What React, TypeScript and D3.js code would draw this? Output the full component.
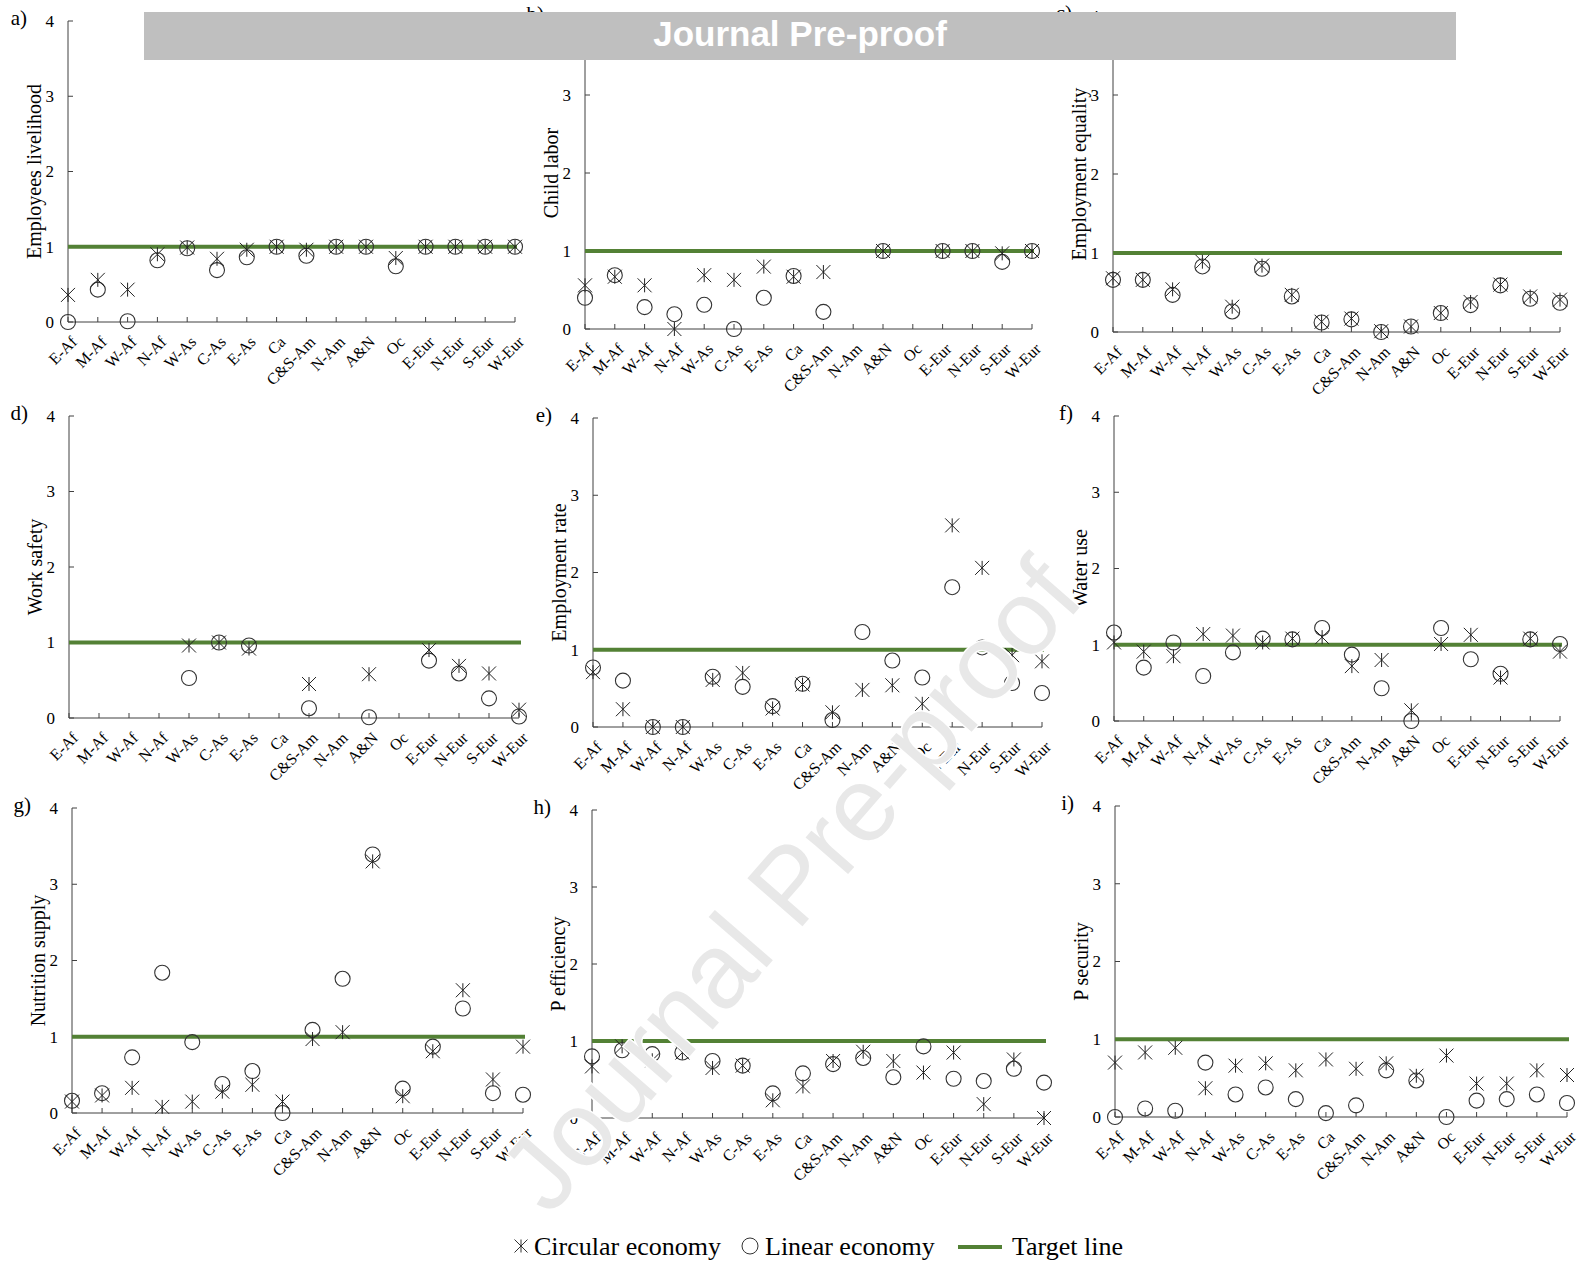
import React from "react";
import * as d3 from "d3";

const regions = ["E-Af", "M-Af", "W-Af", "N-Af", "W-As", "C-As", "E-As", "Ca", "C&S-Am", "N-Am", "A&N", "Oc", "E-Eur", "N-Eur", "S-Eur", "W-Eur"];
const panelLetters = ["a)", "b)", "c)", "d)", "e)", "f)", "g)", "h)", "i)"];
const indicators = ["Employees livelihood", "Child labor", "Employment equality", "Work safety", "Employment rate", "Water use", "Nutrition supply", "P efficiency", "P security"];
const yTicks = [0, 1, 2, 3, 4];
const target = 1;

// circular economy (asterisk) and linear economy (circle), null = no value
const circEmployees = [0.36, 0.56, 0.43, 0.9, 0.99, 0.84, 0.96, 1, 0.96, 1, 1, 0.85, 1, 1, 1, 1];
const linEmployees = [0, 0.43, 0.01, 0.82, 0.98, 0.69, 0.86, 1, 0.88, 1, 1, 0.74, 1, 1, 1, 1];
const circChild = [0.56, 0.67, 0.56, 0, 0.69, 0.63, 0.8, 0.67, 0.73, null, 1, null, 1, 1, 0.97, 1];
const linChild = [0.4, 0.69, 0.28, 0.19, 0.31, 0, 0.4, 0.68, 0.22, null, 1, null, 1, 1, 0.86, 1];
const circEquality = [0.68, 0.66, 0.54, 0.89, 0.32, 0.84, 0.47, 0.13, 0.17, 0.01, 0.07, 0.24, 0.38, 0.6, 0.45, 0.41];
const linEquality = [0.66, 0.66, 0.47, 0.83, 0.26, 0.8, 0.45, 0.12, 0.16, 0, 0.07, 0.24, 0.34, 0.59, 0.42, 0.37];
const circSafety = [null, null, null, null, 0.96, 1, 0.92, null, 0.45, null, 0.58, null, 0.9, 0.69, 0.59, 0.11];
const linSafety = [null, null, null, null, 0.53, 1, 0.96, null, 0.13, null, 0.01, null, 0.76, 0.59, 0.26, 0.02];
const circRate = [0.71, 0.23, 0, 0, 0.61, 0.7, 0.24, 0.55, 0.19, 0.48, 0.54, 0.3, 2.61, 2.06, 0.93, 0.85];
const linRate = [0.77, 0.6, 0, 0, 0.65, 0.52, 0.27, 0.56, 0.09, 1.23, 0.86, 0.64, 1.81, 1.03, 0.57, 0.44];
const circWater = [1.03, 0.91, 0.85, 1.14, 1.12, 1.03, 1.08, 1.1, 0.72, 0.8, 0.14, 1.01, 1.13, 0.57, 1.08, 0.91];
const linWater = [1.16, 0.7, 1.03, 0.59, 0.9, 1.08, 1.07, 1.22, 0.87, 0.43, 0, 1.22, 0.81, 0.62, 1.07, 1.01];
const circNutrition = [0.15, 0.23, 0.33, 0.08, 0.15, 0.28, 0.37, 0.15, 0.97, 1.06, 3.3, 0.22, 0.81, 1.61, 0.44, 0.87];
const linNutrition = [0.16, 0.26, 0.73, 1.84, 0.93, 0.38, 0.55, 0, 1.09, 1.76, 3.39, 0.32, 0.87, 1.37, 0.26, 0.24];
const circPEff = [0.67, 0.93, 0.75, 0.85, 0.65, 0.68, 0.23, 0.41, 0.74, 0.86, 0.74, 0.59, 0.85, 0.18, 0.76, 0];
const linPEff = [0.8, 0.88, 0.83, 0.85, 0.74, 0.68, 0.32, 0.58, 0.7, 0.78, 0.53, 0.93, 0.51, 0.48, 0.64, 0.46];
const circPSec = [0.7, 0.83, 0.89, 0.37, 0.66, 0.69, 0.6, 0.74, 0.62, 0.69, 0.53, 0.79, 0.43, 0.43, 0.6, 0.54];
const linPSec = [0, 0.11, 0.08, 0.7, 0.29, 0.38, 0.23, 0.05, 0.15, 0.6, 0.47, 0, 0.21, 0.23, 0.29, 0.18];

const circular = [circEmployees, circChild, circEquality, circSafety, circRate, circWater, circNutrition, circPEff, circPSec];
const linear = [linEmployees, linChild, linEquality, linSafety, linRate, linWater, linNutrition, linPEff, linPSec];

// pixel frame of each panel: first/last category x, y of 0 and of 4
const frames = [
  { x0: 68, x1: 515, y0: 322, y4: 21 },
  { x0: 585, x1: 1032, y0: 329, y4: 17 },
  { x0: 1113, x1: 1560, y0: 332, y4: 16 },
  { x0: 69, x1: 519, y0: 718, y4: 416 },
  { x0: 593, x1: 1042, y0: 727, y4: 418 },
  { x0: 1114, x1: 1560, y0: 721, y4: 416 },
  { x0: 72, x1: 523, y0: 1113, y4: 808 },
  { x0: 592, x1: 1044, y0: 1118, y4: 810 },
  { x0: 1115, x1: 1567, y0: 1117, y4: 806 },
];

const serif = "'Liberation Serif', 'Times New Roman', serif";
const sans = "'Liberation Sans', Arial, sans-serif";
const green = "#538135";
const axisColor = "#404040";

const starType = {
  draw(ctx: any, size: number) {
    const r = Math.sqrt(size) / 2;
    ctx.moveTo(-r, -r);
    ctx.lineTo(r, r);
    ctx.moveTo(-r, r);
    ctx.lineTo(r, -r);
    ctx.moveTo(0, -r);
    ctx.lineTo(0, r);
  },
};
const star = d3.symbol(starType as any, 196)() as string;
const legendStar = d3.symbol(starType as any, 169)() as string;

const Panel = ({ idx }: { idx: number }) => {
  const f = frames[idx];
  const x = d3.scalePoint<string>().domain(regions).range([f.x0, f.x1]).padding(0);
  const y = d3.scaleLinear().domain([0, 4]).range([f.y0, f.y4]);
  const midY = (f.y0 + f.y4) / 2;
  return (
    <g>
      <text x={f.x0 - 41} y={f.y4 + 4} fontSize={21} fontFamily={serif} textAnchor="end">
        {panelLetters[idx]}
      </text>
      {/* y axis */}
      <line x1={f.x0} x2={f.x0} y1={f.y0} y2={f.y4} stroke={axisColor} strokeWidth={1} />
      {yTicks.map((t) => (
        <g key={t}>
          <line x1={f.x0} x2={f.x0 + 5} y1={y(t)} y2={y(t)} stroke={axisColor} />
          <text x={f.x0 - 14} y={y(t)} dy="0.35em" fontSize={17} fontFamily={serif} textAnchor="end">
            {t}
          </text>
        </g>
      ))}
      <text
        transform={`translate(${f.x0 - 34},${midY}) rotate(-90)`}
        textAnchor="middle"
        dy="0.35em"
        fontSize={20}
        fontFamily={serif}
      >
        {indicators[idx]}
      </text>
      {/* x axis */}
      <line x1={f.x0} x2={f.x1} y1={f.y0} y2={f.y0} stroke={axisColor} strokeWidth={1} />
      {regions.map((r) => (
        <g key={r}>
          <line x1={x(r)} x2={x(r)} y1={f.y0} y2={f.y0 - 5} stroke={axisColor} />
          <text
            transform={`translate(${(x(r) as number) + 2},${f.y0 + 13}) rotate(-45)`}
            textAnchor="end"
            dy="0.7em"
            fontSize={16}
            fontFamily={serif}
          >
            {r}
          </text>
        </g>
      ))}
      {/* target line */}
      <line x1={f.x0} x2={f.x1 + 2} y1={y(target)} y2={y(target)} stroke={green} strokeWidth={4} />
      {/* linear economy */}
      {linear[idx].map((v, i) =>
        v === null ? null : (
          <circle key={"l" + i} cx={x(regions[i])} cy={y(v)} r={7.5} fill="none" stroke="#333" strokeWidth={1.1} />
        )
      )}
      {/* circular economy */}
      {circular[idx].map((v, i) =>
        v === null ? null : (
          <path
            key={"c" + i}
            d={star}
            transform={`translate(${x(regions[i])},${y(v)})`}
            fill="none"
            stroke="#222"
            strokeWidth={1}
          />
        )
      )}
    </g>
  );
};

export default function App() {
  const legendY = 1246;
  return (
    <svg
      width={1583}
      height={1268}
      style={{ position: "absolute", left: 0, top: 0, background: "#fff" }}
    >
      <rect width={1583} height={1268} fill="#fff" />
      {frames.map((_, i) => (
        <Panel key={i} idx={i} />
      ))}
      {/* legend */}
      <g fontFamily={serif} fontSize={26}>
        <path d={legendStar} transform={`translate(521,${legendY})`} fill="none" stroke="#333" strokeWidth={1} />
        <text x={534} y={legendY} dy="0.35em">Circular economy</text>
        <circle cx={750} cy={legendY} r={8} fill="none" stroke="#333" strokeWidth={1} />
        <text x={765} y={legendY} dy="0.35em">Linear economy</text>
        <line x1={958} x2={1002} y1={legendY + 1} y2={legendY + 1} stroke={green} strokeWidth={4} />
        <text x={1012} y={legendY} dy="0.35em">Target line</text>
      </g>
      {/* watermark */}
      <text
        transform="translate(790,884) rotate(-49)"
        textAnchor="middle"
        dy="0.35em"
        fontSize={106}
        fontFamily={sans}
        fill="#e8e8e8"
        stroke="#fff"
        strokeWidth={3}
        style={{ paintOrder: "stroke" }}
      >
        Journal Pre-proof
      </text>
      {/* banner */}
      <rect x={144} y={12} width={1312} height={48} fill="#bfbfbf" />
      <text x={800} y={46} textAnchor="middle" fontSize={35} fontWeight="bold" fontFamily={sans} fill="#fff">
        Journal Pre-proof
      </text>
    </svg>
  );
}
